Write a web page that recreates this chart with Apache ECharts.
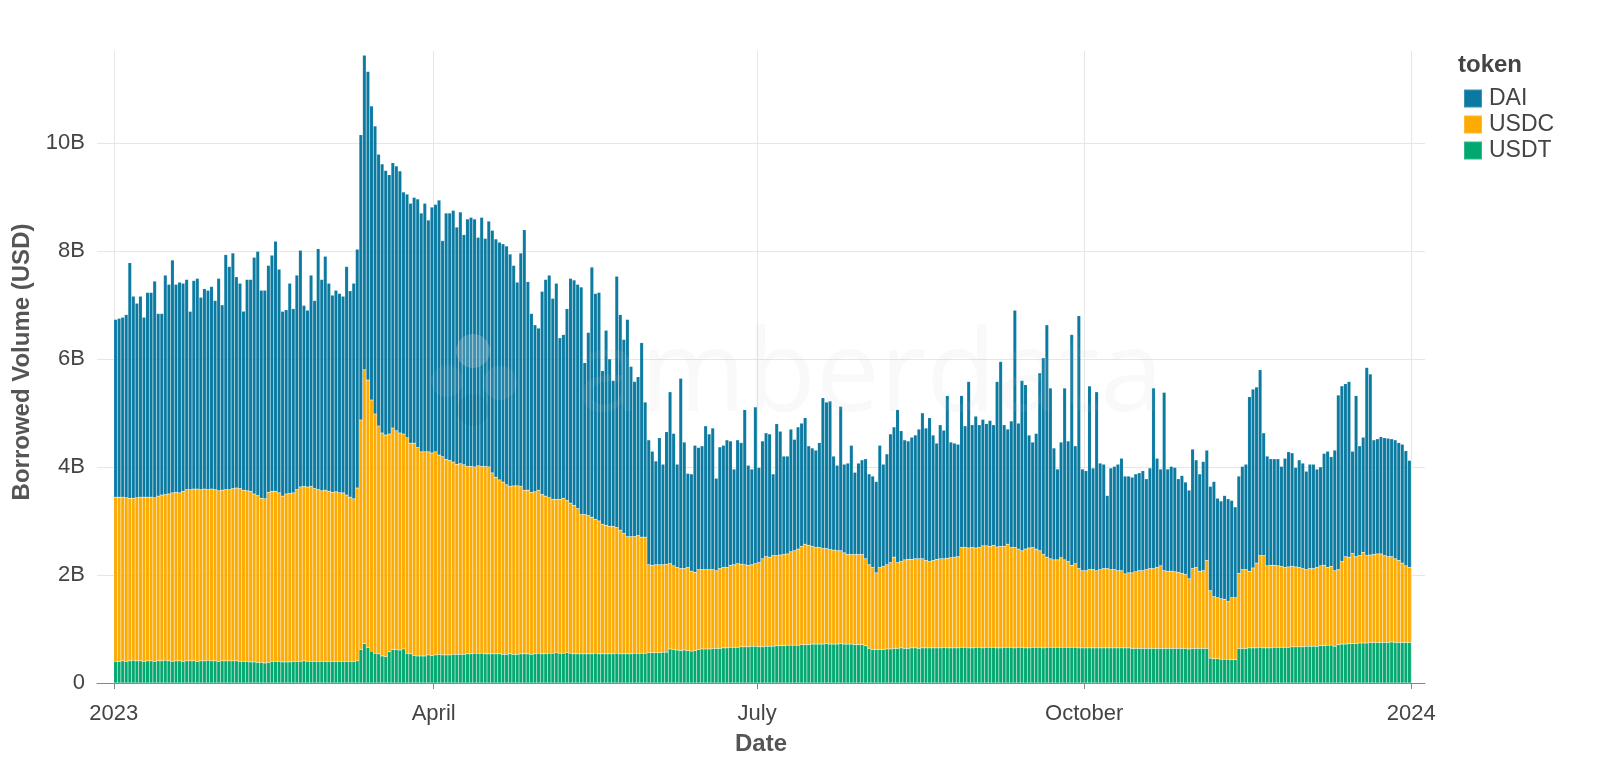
<!DOCTYPE html>
<html><head><meta charset="utf-8">
<script src="https://cdn.jsdelivr.net/npm/echarts@6/dist/echarts.min.js"></script>
<style>html,body{margin:0;padding:0;background:#fff}#c{width:1600px;height:782px}</style>
</head><body><div id="c"></div>
<script>
// Daily values from 2023-01-01, in billions of USD
const daiValues = [
3.29,3.31,3.33,3.39,4.36,3.74,3.60,3.72,3.33,3.79,3.79,4.01,3.38,3.36,4.06,3.88,4.31,3.85,3.90,3.85,3.89,3.30,3.86,3.90,3.56,3.71,3.69,3.75,3.50,3.93,3.43,4.35,
4.13,4.36,3.91,3.80,3.31,3.91,3.92,4.38,4.52,3.85,3.86,4.20,4.37,4.63,4.14,3.42,3.41,3.89,3.41,3.97,4.38,3.35,3.27,3.91,3.48,4.46,3.91,4.33,3.85,3.65,3.73,3.69,3.64,
4.23,3.82,3.99,4.42,5.28,5.82,5.71,5.44,5.33,5.03,4.98,4.90,4.80,4.91,4.90,4.85,4.48,4.51,4.44,4.55,4.60,4.42,4.60,4.29,4.55,4.58,4.72,4.00,4.56,4.58,4.66,4.39,4.66,
4.26,4.58,4.61,4.59,4.23,4.61,4.22,4.55,4.49,4.41,4.40,4.41,4.42,4.30,4.08,3.77,4.32,4.82,3.86,3.31,3.09,3.00,3.76,4.01,4.12,3.72,4.00,2.99,3.03,3.55,4.16,4.17,4.15,
4.21,2.81,3.39,4.63,4.18,4.23,2.84,3.61,3.10,2.70,4.65,3.99,3.59,4.02,3.15,2.87,2.94,3.60,2.50,2.31,2.11,1.92,2.35,1.86,2.45,3.18,2.45,1.91,3.52,2.34,1.74,1.80,2.35,
2.26,2.29,2.66,2.51,2.62,1.71,2.25,2.26,2.36,2.30,1.77,2.29,2.25,2.87,1.85,1.77,2.90,1.76,2.18,2.29,2.28,1.51,2.44,2.29,1.82,1.81,2.27,2.06,2.26,2.28,2.34,1.84,1.82,
1.80,1.94,2.79,2.71,2.75,1.74,1.58,2.67,1.64,1.69,2.02,1.52,1.69,1.75,1.85,1.68,1.69,1.69,2.26,1.89,2.05,2.38,2.41,2.83,2.42,2.22,2.19,2.26,2.29,2.40,2.70,2.45,2.66,
2.32,2.15,2.48,2.38,3.01,2.14,2.11,2.08,2.81,2.25,3.08,2.27,2.44,2.27,2.34,2.26,2.33,2.23,3.06,3.42,2.25,2.13,2.34,4.39,2.33,3.15,3.04,2.09,1.95,2.14,3.29,3.64,4.30,
3.16,2.07,1.68,2.14,3.18,2.23,4.27,2.18,4.68,1.88,1.85,3.40,1.88,3.31,1.97,1.93,1.35,1.88,1.91,1.97,2.08,1.81,1.79,1.77,1.81,1.81,1.85,1.68,1.86,3.34,2.02,1.79,3.30,
1.89,1.94,1.93,1.73,1.81,1.71,1.64,2.21,1.99,1.80,2.02,2.04,1.93,2.13,1.84,1.81,1.92,1.90,1.80,1.68,1.80,1.91,1.95,3.23,3.31,3.26,3.44,2.27,2.03,1.97,1.97,1.98,1.85,
2.02,2.13,2.10,1.84,1.99,1.95,1.82,1.93,1.93,1.82,1.83,2.07,2.15,2.03,2.23,3.23,3.25,3.20,3.25,1.89,2.98,2.03,2.13,3.48,3.35,2.12,2.13,2.17,2.18,2.19,2.18,2.20,2.18,2.20,2.13,1.98
];
const usdcValues = [
3.04,3.04,3.03,3.03,3.01,3.00,3.02,3.03,3.04,3.03,3.03,3.03,3.05,3.07,3.07,3.09,3.12,3.12,3.11,3.15,3.17,3.17,3.18,3.19,3.17,3.18,3.16,3.18,3.17,3.16,3.16,3.17,
3.17,3.19,3.20,3.20,3.17,3.16,3.16,3.11,3.09,3.04,3.04,3.15,3.15,3.15,3.12,3.07,3.11,3.12,3.12,3.18,3.23,3.23,3.23,3.24,3.20,3.18,3.16,3.17,3.15,3.13,3.14,3.12,3.12,
3.08,3.04,3.01,3.20,4.25,5.07,4.95,4.65,4.43,4.22,4.13,4.10,4.03,4.10,4.05,4.02,3.98,3.99,3.90,3.93,3.86,3.78,3.78,3.76,3.75,3.76,3.69,3.67,3.62,3.60,3.56,3.52,3.53,
3.51,3.47,3.47,3.45,3.47,3.46,3.47,3.46,3.35,3.27,3.22,3.19,3.14,3.10,3.12,3.12,3.10,3.03,3.03,3.00,3.00,3.02,2.95,2.92,2.88,2.85,2.84,2.85,2.87,2.82,2.78,2.75,2.69,
2.58,2.58,2.56,2.53,2.48,2.46,2.40,2.38,2.36,2.36,2.33,2.29,2.23,2.17,2.17,2.16,2.18,2.15,2.15,1.63,1.62,1.63,1.63,1.62,1.63,1.58,1.55,1.53,1.52,1.51,1.54,1.48,1.45,
1.48,1.47,1.47,1.47,1.46,1.44,1.48,1.49,1.49,1.52,1.53,1.55,1.53,1.52,1.51,1.51,1.53,1.56,1.63,1.66,1.65,1.68,1.67,1.68,1.69,1.69,1.73,1.75,1.78,1.82,1.86,1.84,1.81,
1.79,1.79,1.77,1.76,1.75,1.74,1.73,1.72,1.69,1.66,1.66,1.67,1.67,1.67,1.61,1.55,1.52,1.42,1.52,1.54,1.56,1.60,1.69,1.59,1.60,1.64,1.65,1.64,1.65,1.66,1.65,1.62,1.60,
1.62,1.64,1.65,1.64,1.66,1.67,1.68,1.69,1.85,1.85,1.85,1.86,1.84,1.85,1.89,1.88,1.87,1.89,1.87,1.88,1.87,1.91,1.85,1.86,1.82,1.79,1.83,1.85,1.85,1.82,1.79,1.73,1.67,
1.64,1.62,1.62,1.66,1.62,1.59,1.52,1.55,1.47,1.43,1.43,1.45,1.45,1.43,1.45,1.47,1.47,1.45,1.45,1.43,1.43,1.37,1.39,1.40,1.42,1.44,1.44,1.46,1.48,1.48,1.50,1.53,1.44,
1.43,1.43,1.42,1.41,1.39,1.37,1.30,1.48,1.50,1.43,1.44,1.63,1.25,1.15,1.13,1.12,1.11,1.07,1.15,1.15,1.39,1.46,1.46,1.42,1.48,1.57,1.70,1.71,1.52,1.53,1.52,1.51,1.50,
1.48,1.49,1.49,1.48,1.47,1.45,1.42,1.44,1.44,1.46,1.48,1.49,1.44,1.46,1.40,1.39,1.53,1.62,1.60,1.67,1.61,1.62,1.68,1.62,1.62,1.63,1.64,1.64,1.61,1.59,1.58,1.55,1.52,1.47,1.42,1.39
];
const usdtValues = [
0.40,0.40,0.41,0.40,0.41,0.42,0.41,0.41,0.40,0.41,0.41,0.40,0.41,0.41,0.42,0.41,0.40,0.41,0.41,0.40,0.41,0.41,0.41,0.40,0.41,0.41,0.42,0.41,0.41,0.40,0.41,0.41,
0.41,0.41,0.41,0.40,0.40,0.40,0.39,0.39,0.38,0.38,0.37,0.38,0.40,0.40,0.40,0.39,0.39,0.39,0.40,0.40,0.40,0.41,0.40,0.40,0.40,0.40,0.40,0.40,0.40,0.40,0.40,0.40,0.40,
0.40,0.40,0.40,0.41,0.62,0.73,0.66,0.59,0.55,0.54,0.50,0.49,0.58,0.62,0.62,0.61,0.63,0.55,0.54,0.51,0.50,0.50,0.50,0.52,0.51,0.52,0.53,0.52,0.52,0.52,0.53,0.53,0.53,
0.53,0.54,0.54,0.55,0.55,0.55,0.54,0.54,0.54,0.54,0.54,0.53,0.53,0.54,0.53,0.53,0.54,0.54,0.54,0.53,0.54,0.55,0.54,0.54,0.55,0.55,0.56,0.55,0.55,0.56,0.55,0.54,0.54,
0.54,0.54,0.54,0.54,0.55,0.54,0.54,0.54,0.54,0.54,0.55,0.54,0.54,0.54,0.54,0.55,0.55,0.55,0.55,0.56,0.56,0.56,0.56,0.57,0.57,0.63,0.62,0.61,0.60,0.61,0.60,0.59,0.60,
0.62,0.63,0.63,0.63,0.64,0.64,0.64,0.65,0.65,0.66,0.66,0.66,0.67,0.67,0.67,0.68,0.68,0.67,0.67,0.68,0.68,0.68,0.69,0.69,0.69,0.70,0.70,0.70,0.70,0.71,0.71,0.71,0.72,
0.72,0.72,0.72,0.73,0.72,0.72,0.72,0.73,0.72,0.72,0.72,0.71,0.71,0.71,0.69,0.64,0.62,0.62,0.62,0.62,0.63,0.63,0.64,0.64,0.65,0.64,0.64,0.65,0.65,0.64,0.65,0.65,0.65,
0.65,0.65,0.65,0.66,0.65,0.65,0.65,0.65,0.66,0.66,0.65,0.65,0.66,0.66,0.65,0.66,0.66,0.66,0.65,0.65,0.66,0.66,0.66,0.65,0.66,0.66,0.65,0.65,0.66,0.66,0.66,0.65,0.66,
0.66,0.66,0.66,0.66,0.66,0.66,0.66,0.66,0.65,0.65,0.65,0.65,0.65,0.65,0.65,0.65,0.65,0.65,0.65,0.65,0.65,0.65,0.65,0.64,0.64,0.64,0.64,0.64,0.64,0.64,0.64,0.64,0.64,
0.64,0.64,0.64,0.64,0.64,0.64,0.63,0.64,0.64,0.64,0.64,0.64,0.46,0.45,0.45,0.44,0.44,0.44,0.43,0.43,0.64,0.64,0.64,0.65,0.65,0.65,0.66,0.65,0.65,0.65,0.66,0.66,0.66,
0.66,0.66,0.67,0.67,0.67,0.67,0.68,0.68,0.68,0.68,0.69,0.69,0.70,0.70,0.68,0.71,0.72,0.72,0.73,0.73,0.73,0.74,0.74,0.74,0.75,0.75,0.75,0.75,0.75,0.75,0.76,0.75,0.75,0.75,0.75,0.75
];
const tokens = ['DAI', 'USDC', 'USDT'];
const monthLabels = ['2023', 'Feb', 'Mar', 'April', 'May', 'Jun', 'July', 'Aug', 'Sep', 'October', 'Nov', 'Dec'];
const yTicks = [0, 2, 4, 6, 8, 10];

const DAY = 86400000;
const start = Date.UTC(2023, 0, 1, 12);
const dates = daiValues.map((_, i) => start + i * DAY);
const colors = { DAI: '#0a7aa1', USDC: '#fdab00', USDT: '#02a86f' };
const valuesByToken = { DAI: daiValues, USDC: usdcValues, USDT: usdtValues };
const FONT = '"Liberation Sans", Arial, Helvetica, sans-serif';

const chart = echarts.init(document.getElementById('c'), null, { renderer: 'canvas' });
const stackOrder = ['USDT', 'USDC', 'DAI'];
const series = stackOrder.map(t => ({
  name: t, type: 'bar', stack: 'total',
  data: dates.map((d, i) => [d, valuesByToken[t][i]]),
  barCategoryGap: '0%', barGap: '0%',
  itemStyle: { color: colors[t], borderColor: 'rgba(255,255,255,0.2)', borderWidth: 0.5 },
  emphasis: { disabled: true },
  animation: false
}));

chart.setOption({
  useUTC: true,
  animation: false,
  backgroundColor: '#fff',
  textStyle: { fontFamily: FONT },
  title: { text: 'token', left: 1453, top: 48, textStyle: { fontSize: 24, fontWeight: 'bold', color: '#444', fontFamily: FONT } },
  legend: {
    data: tokens, orient: 'vertical', left: 1458, top: 82, icon: 'rect',
    itemWidth: 18, itemHeight: 18, itemGap: 3,
    textStyle: { fontSize: 23, color: '#444', fontFamily: FONT, padding: [0, 0, 0, 2] },
    selectedMode: false
  },
  grid: { left: 97, right: 175, top: 51, bottom: 99, containLabel: false },
  xAxis: {
    type: 'time',
    min: Date.UTC(2022, 11, 27, 19), max: Date.UTC(2024, 0, 4, 9),
    splitNumber: 4, minInterval: 80 * DAY, maxInterval: 100 * DAY,
    name: 'Date', nameLocation: 'middle', nameGap: 49,
    nameTextStyle: { fontSize: 24, fontWeight: 'bold', color: '#555', fontFamily: FONT },
    axisLine: { show: true, lineStyle: { color: '#888', width: 1 } },
    axisTick: { show: true, length: 6, lineStyle: { color: '#888' } },
    axisLabel: {
      fontSize: 22, color: '#444', margin: 20, fontFamily: FONT, hideOverlap: false,
      formatter: v => {
        const d = new Date(v);
        const m = d.getUTCMonth();
        return m === 0 ? String(d.getUTCFullYear()) : monthLabels[m];
      }
    },
    splitLine: { show: true, showMinLine: false, showMaxLine: false, lineStyle: { color: '#e6e6e6', width: 1 } }
  },
  yAxis: {
    type: 'value', min: 0, max: 11.7,
    name: 'Borrowed Volume (USD)', nameLocation: 'middle', nameGap: 63, nameRotate: 90,
    nameTextStyle: { fontSize: 24, fontWeight: 'bold', color: '#555', fontFamily: FONT, padding: [0, 0, 0, 10] },
    axisLine: { show: false },
    axisTick: { show: false, customValues: yTicks },
    axisLabel: { customValues: yTicks, fontSize: 22, color: '#444', margin: 12, fontFamily: FONT,
      formatter: v => v === 0 ? '0' : v + 'B' },
    splitLine: { show: true, lineStyle: { color: '#e6e6e6', width: 1 } }
  },
  graphic: [
    { type: 'text', z: 100, left: 577, top: 322, silent: true,
      style: { text: 'amberdata', fontSize: 114, fontFamily: '"Open Sans", "DejaVu Sans", sans-serif', fill: 'rgba(200,200,200,0.10)' } },
    { type: 'circle', z: 100, silent: true, shape: { cx: 473, cy: 351, r: 17 }, style: { fill: 'rgba(200,200,210,0.28)' } },
    { type: 'circle', z: 100, silent: true, shape: { cx: 447, cy: 381, r: 16 }, style: { fill: 'rgba(200,200,210,0.10)' } },
    { type: 'circle', z: 100, silent: true, shape: { cx: 500, cy: 383, r: 17 }, style: { fill: 'rgba(200,200,210,0.12)' } },
    { type: 'circle', z: 100, silent: true, shape: { cx: 473, cy: 410, r: 16 }, style: { fill: 'rgba(0,60,90,0.08)' } }
  ],
  series
});
</script></body></html>
